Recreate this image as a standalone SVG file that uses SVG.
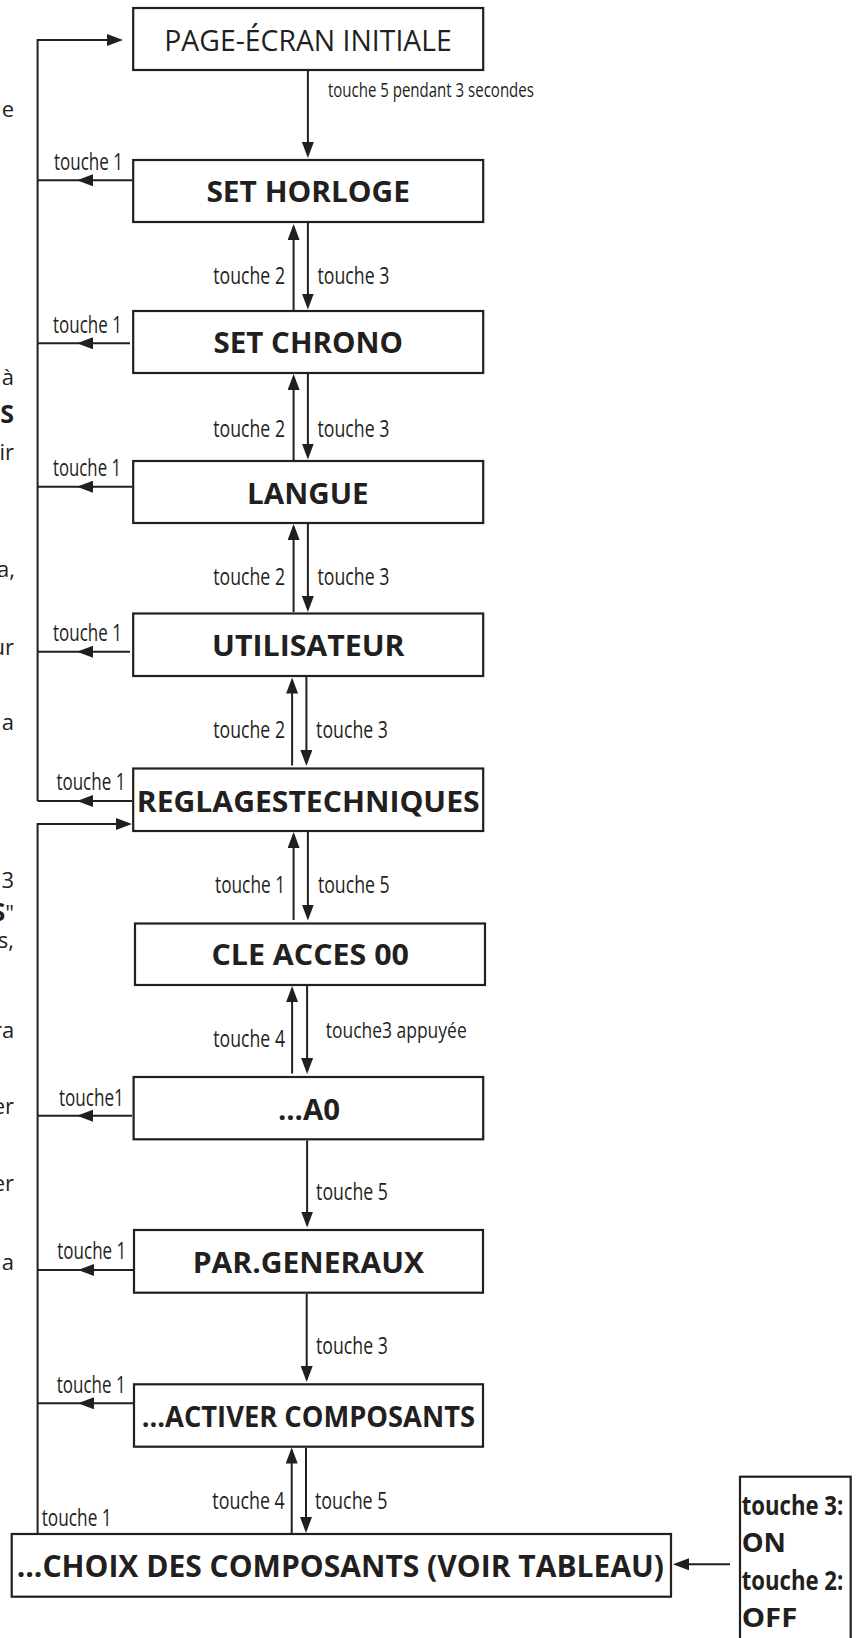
<svg xmlns="http://www.w3.org/2000/svg" width="856" height="1638" viewBox="0 0 856 1638">
<style>
.box{fill:#fff;stroke:#231f20;stroke-width:2.2}
.ln{fill:none;stroke:#231f20;stroke-width:2}
text{font-family:"Open Sans","Liberation Sans",sans-serif;fill:#231f20}
.bt{font-size:28.5px;font-weight:700}
.lb{font-size:23px}
.fr{font-size:22px}
.rb{font-size:26px;font-weight:700}
</style>
<defs>
<marker id="ah" viewBox="0 0 16 12" refX="13" refY="6" markerWidth="16" markerHeight="12" markerUnits="userSpaceOnUse" orient="auto"><path d="M0,0 L16,6 L0,12 Z" fill="#231f20"/></marker>
<marker id="am" viewBox="0 0 16 12" refX="16" refY="6" markerWidth="16" markerHeight="12" markerUnits="userSpaceOnUse" orient="auto"><path d="M0,0 L16,6 L0,12 Z" fill="#231f20"/></marker>
</defs>
<rect width="856" height="1638" fill="#fff"/>

<g id="fragments">
<text class="fr" x="14" y="117" text-anchor="end">e</text>
<text class="fr" x="14" y="385" text-anchor="end">à</text>
<text x="14" y="423" text-anchor="end" style="font-size:25px;font-weight:700">S</text>
<text class="fr" x="14" y="460" text-anchor="end">ir</text>
<text class="fr" x="15" y="577" text-anchor="end">a,</text>
<text class="fr" x="14" y="655" text-anchor="end">ur</text>
<text class="fr" x="14" y="730" text-anchor="end">a</text>
<text class="fr" x="14" y="888" text-anchor="end">3</text>
<text class="fr" x="14" y="921" text-anchor="end"><tspan style="font-size:25px;font-weight:700">S</tspan>"</text>
<text class="fr" x="14" y="948" text-anchor="end">s,</text>
<text class="fr" x="14.3" y="1038" text-anchor="end">ra</text>
<text class="fr" x="14" y="1114" text-anchor="end">er</text>
<text class="fr" x="14" y="1191" text-anchor="end">er</text>
<text class="fr" x="14" y="1270" text-anchor="end">a</text>
</g>

<g id="connectors">
<path class="ln" d="M37.6,801 V40 H120" marker-end="url(#ah)"/>
<path class="ln" d="M37.6,1534 V824 H129" marker-end="url(#ah)"/>
<path class="ln" d="M132,180.3 H77 H37.6" marker-mid="url(#am)"/>
<path class="ln" d="M130,343.3 H77 H37.6" marker-mid="url(#am)"/>
<path class="ln" d="M132,486.7 H77 H37.6" marker-mid="url(#am)"/>
<path class="ln" d="M130,651.7 H77 H37.6" marker-mid="url(#am)"/>
<path class="ln" d="M132,801 H77 H37.6" marker-mid="url(#am)"/>
<path class="ln" d="M132,1115.7 H77 H37.6" marker-mid="url(#am)"/>
<path class="ln" d="M133,1270 H78 H37.6" marker-mid="url(#am)"/>
<path class="ln" d="M133,1403.3 H78 H37.6" marker-mid="url(#am)"/>
<path class="ln" d="M307.9,71 V155" marker-end="url(#ah)"/>
<path class="ln" d="M293.6,310 V227" marker-end="url(#ah)"/>
<path class="ln" d="M307.9,223 V306.5" marker-end="url(#ah)"/>
<path class="ln" d="M293.6,460 V377" marker-end="url(#ah)"/>
<path class="ln" d="M307.9,374 V456.5" marker-end="url(#ah)"/>
<path class="ln" d="M293.6,612 V527" marker-end="url(#ah)"/>
<path class="ln" d="M307.9,524 V609" marker-end="url(#ah)"/>
<path class="ln" d="M292.1,765.5 V680.5" marker-end="url(#ah)"/>
<path class="ln" d="M306.4,677 V763" marker-end="url(#ah)"/>
<path class="ln" d="M293.6,920 V835" marker-end="url(#ah)"/>
<path class="ln" d="M307.9,832 V917.5" marker-end="url(#ah)"/>
<path class="ln" d="M292.1,1073.5 V989" marker-end="url(#ah)"/>
<path class="ln" d="M307.1,986 V1071" marker-end="url(#ah)"/>
<path class="ln" d="M307.1,1140.4 V1224.5" marker-end="url(#ah)"/>
<path class="ln" d="M306.7,1293.8 V1379" marker-end="url(#ah)"/>
<path class="ln" d="M291.7,1533 V1450.5" marker-end="url(#ah)"/>
<path class="ln" d="M306,1448 V1530" marker-end="url(#ah)"/>
<path class="ln" d="M730,1564.3 H676" marker-end="url(#ah)"/>
</g>

<g id="labels">
<text x="327.9" y="96.7" style="font-size:20px" textLength="206" lengthAdjust="spacingAndGlyphs">touche 5 pendant 3 secondes</text>
<text class="lb" x="54" y="170" textLength="69" lengthAdjust="spacingAndGlyphs">touche 1</text>
<text class="lb" x="213.3" y="284" textLength="71.7" lengthAdjust="spacingAndGlyphs">touche 2</text>
<text class="lb" x="317.5" y="284" textLength="71.8" lengthAdjust="spacingAndGlyphs">touche 3</text>
<text class="lb" x="53" y="333.3" textLength="69" lengthAdjust="spacingAndGlyphs">touche 1</text>
<text class="lb" x="213.3" y="436.5" textLength="71.7" lengthAdjust="spacingAndGlyphs">touche 2</text>
<text class="lb" x="317.5" y="436.5" textLength="71.8" lengthAdjust="spacingAndGlyphs">touche 3</text>
<text class="lb" x="53" y="476" textLength="68" lengthAdjust="spacingAndGlyphs">touche 1</text>
<text class="lb" x="213.3" y="585" textLength="71.7" lengthAdjust="spacingAndGlyphs">touche 2</text>
<text class="lb" x="317.5" y="585" textLength="71.8" lengthAdjust="spacingAndGlyphs">touche 3</text>
<text class="lb" x="53" y="640.7" textLength="69" lengthAdjust="spacingAndGlyphs">touche 1</text>
<text class="lb" x="213.3" y="738.3" textLength="71.7" lengthAdjust="spacingAndGlyphs">touche 2</text>
<text class="lb" x="316.1" y="738.3" textLength="71.8" lengthAdjust="spacingAndGlyphs">touche 3</text>
<text class="lb" x="56.4" y="790" textLength="69" lengthAdjust="spacingAndGlyphs">touche 1</text>
<text class="lb" x="215" y="893.3" textLength="70" lengthAdjust="spacingAndGlyphs">touche 1</text>
<text class="lb" x="317.9" y="893.3" textLength="71.8" lengthAdjust="spacingAndGlyphs">touche 5</text>
<text class="lb" x="213.3" y="1046.7" textLength="71.7" lengthAdjust="spacingAndGlyphs">touche 4</text>
<text x="325.7" y="1038.3" style="font-size:21px" textLength="141" lengthAdjust="spacingAndGlyphs">touche3 appuyée</text>
<text class="lb" x="58.9" y="1106" textLength="65" lengthAdjust="spacingAndGlyphs">touche1</text>
<text class="lb" x="316.1" y="1200" textLength="71.8" lengthAdjust="spacingAndGlyphs">touche 5</text>
<text class="lb" x="57.3" y="1259.3" textLength="69" lengthAdjust="spacingAndGlyphs">touche 1</text>
<text class="lb" x="316" y="1354" textLength="71.8" lengthAdjust="spacingAndGlyphs">touche 3</text>
<text class="lb" x="56.7" y="1393.3" textLength="69" lengthAdjust="spacingAndGlyphs">touche 1</text>
<text class="lb" x="212.3" y="1509" textLength="72.5" lengthAdjust="spacingAndGlyphs">touche 4</text>
<text class="lb" x="315" y="1509" textLength="72.5" lengthAdjust="spacingAndGlyphs">touche 5</text>
<text class="lb" x="41.7" y="1525.7" textLength="70" lengthAdjust="spacingAndGlyphs">touche 1</text>
</g>

<g id="n-page">
<rect class="box" x="133.2" y="8" width="350" height="62"/>
<text x="164.3" y="51" style="font-size:29.5px" textLength="287.5" lengthAdjust="spacingAndGlyphs">PAGE-ÉCRAN INITIALE</text>
</g>
<g id="n-horloge">
<rect class="box" x="133.2" y="160" width="350" height="62"/>
<text class="bt" x="206.4" y="202.3" textLength="203.6" lengthAdjust="spacingAndGlyphs">SET HORLOGE</text>
</g>
<g id="n-chrono">
<rect class="box" x="133.2" y="311" width="350" height="62"/>
<text class="bt" x="213.6" y="352.7" textLength="189.3" lengthAdjust="spacingAndGlyphs">SET CHRONO</text>
</g>
<g id="n-langue">
<rect class="box" x="133.2" y="461" width="350" height="62"/>
<text class="bt" x="247.1" y="504.3" textLength="121.5" lengthAdjust="spacingAndGlyphs">LANGUE</text>
</g>
<g id="n-utilisateur">
<rect class="box" x="133.2" y="613.5" width="350" height="62.5"/>
<text class="bt" x="212.1" y="656" textLength="192.5" lengthAdjust="spacingAndGlyphs">UTILISATEUR</text>
</g>
<g id="n-reglages">
<rect class="box" x="133.2" y="768.5" width="350" height="62.5"/>
<text class="bt" x="136.8" y="811.7" textLength="342.8" lengthAdjust="spacingAndGlyphs">REGLAGESTECHNIQUES</text>
</g>
<g id="n-cle">
<rect class="box" x="135" y="923.5" width="350" height="61.5"/>
<text class="bt" x="211.4" y="965" textLength="197.5" lengthAdjust="spacingAndGlyphs">CLE ACCES 00</text>
</g>
<g id="n-a0">
<rect class="box" x="133.6" y="1077" width="349.6" height="62.3"/>
<text class="bt" x="277.9" y="1120" textLength="62.1" lengthAdjust="spacingAndGlyphs">...A0</text>
</g>
<g id="n-par">
<rect class="box" x="134" y="1230" width="349" height="62.7"/>
<text class="bt" x="192.7" y="1273.3" textLength="231.3" lengthAdjust="spacingAndGlyphs">PAR.GENERAUX</text>
</g>
<g id="n-activer">
<rect class="box" x="134" y="1384.3" width="349" height="62.4"/>
<text class="bt" x="141.7" y="1426.7" textLength="333.3" lengthAdjust="spacingAndGlyphs">...ACTIVER COMPOSANTS</text>
</g>
<g id="n-choix">
<rect class="box" x="11.7" y="1534" width="659.3" height="62.7"/>
<text class="bt" x="16.7" y="1577.3" style="font-size:30px" textLength="647.3" lengthAdjust="spacingAndGlyphs">...CHOIX DES COMPOSANTS (VOIR TABLEAU)</text>
</g>
<g id="n-onoff">
<rect class="box" x="740" y="1476.7" width="110.7" height="180"/>
<text class="rb" x="741.7" y="1515" textLength="101.6" lengthAdjust="spacingAndGlyphs">touche 3:</text>
<text class="rb" x="741.7" y="1551.7" textLength="44.3" lengthAdjust="spacingAndGlyphs">ON</text>
<text class="rb" x="741.7" y="1590" textLength="101.6" lengthAdjust="spacingAndGlyphs">touche 2:</text>
<text class="rb" x="741.7" y="1626.7" textLength="55.6" lengthAdjust="spacingAndGlyphs">OFF</text>
</g>
</svg>
